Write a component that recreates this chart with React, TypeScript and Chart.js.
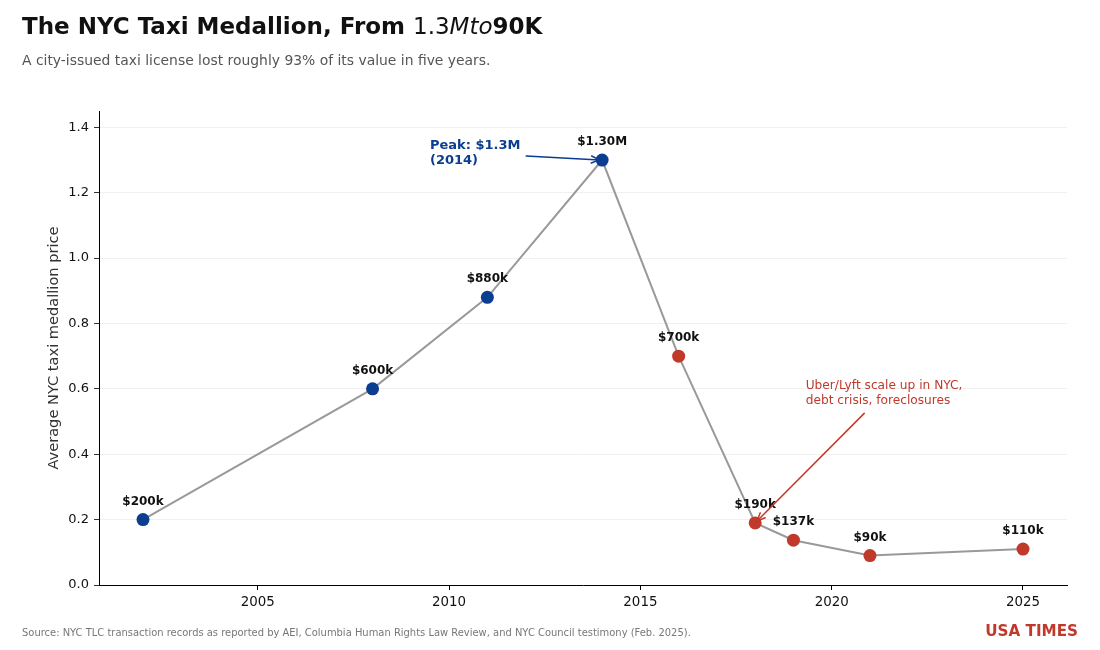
import React, { useEffect, useRef } from "react";
import { Chart, registerables } from "chart.js";

Chart.register(...registerables);

const years = [2002, 2008, 2011, 2014, 2016, 2018, 2019, 2021, 2025];
const prices = [0.2, 0.6, 0.88, 1.3, 0.7, 0.19, 0.137, 0.09, 0.11];
const priceLabels = ["$200k", "$600k", "$880k", "$1.30M", "$700k", "$190k", "$137k", "$90k", "$110k"];
const xTicks = [2005, 2010, 2015, 2020, 2025];
const yTicks = [0, 0.2, 0.4, 0.6, 0.8, 1.0, 1.2, 1.4];

const BLUE = "#0b3d91";
const RED = "#c0392b";
const FONT = '"DejaVu Sans", "Liberation Sans", sans-serif';

const peakNote = { x: 2009.5, y: 1.32, lines: ["Peak: $1.3M", "(2014)"], target: 3 };
const uberNote = { x: 2019.32, y: 0.586, lines: ["Uber/Lyft scale up in NYC,", "debt crisis, foreclosures"], target: 5 };

function drawArrow(ctx: CanvasRenderingContext2D, x1: number, y1: number, x2: number, y2: number, color: string) {
  const ang = Math.atan2(y2 - y1, x2 - x1);
  const shrink = 2.7;
  const ex = x2 - Math.cos(ang) * shrink;
  const ey = y2 - Math.sin(ang) * shrink;
  const sx = x1 + Math.cos(ang) * shrink;
  const sy = y1 + Math.sin(ang) * shrink;
  ctx.save();
  ctx.strokeStyle = color;
  ctx.lineWidth = 1.5;
  ctx.lineCap = "round";
  ctx.lineJoin = "round";
  ctx.beginPath();
  ctx.moveTo(sx, sy);
  ctx.lineTo(ex, ey);
  ctx.stroke();
  const hl = 8, hw = 3.5;
  const bx = ex - Math.cos(ang) * hl;
  const by = ey - Math.sin(ang) * hl;
  const nx = -Math.sin(ang), ny = Math.cos(ang);
  ctx.beginPath();
  ctx.moveTo(bx + nx * hw, by + ny * hw);
  ctx.lineTo(ex, ey);
  ctx.lineTo(bx - nx * hw, by - ny * hw);
  ctx.stroke();
  ctx.restore();
}

function drawNote(chart: any, note: any, color: string, bold: boolean, size: number) {
  const ctx: CanvasRenderingContext2D = chart.ctx;
  const xs = chart.scales.x, ys = chart.scales.y;
  const tx = xs.getPixelForValue(note.x);
  const ty = ys.getPixelForValue(note.y);
  const lh = 15;
  ctx.save();
  ctx.font = (bold ? "bold " : "") + size + "px " + FONT;
  ctx.fillStyle = color;
  ctx.textAlign = "left";
  ctx.textBaseline = "middle";
  let w = 0;
  note.lines.forEach((l: string, i: number) => {
    w = Math.max(w, ctx.measureText(l).width);
    ctx.fillText(l, tx, ty + (i - (note.lines.length - 1) / 2) * lh);
  });
  ctx.restore();
  const h = lh * note.lines.length;
  const cx = tx + w / 2, cy = ty;
  const pt = chart.getDatasetMeta(0).data[note.target];
  const px = pt.x, py = pt.y;
  const dx = px - cx, dy = py - cy;
  const pad = 3;
  const hx = w / 2 + pad, hy = h / 2 + pad;
  const t = Math.min(Math.abs(hx / (dx || 1e-9)), Math.abs(hy / (dy || 1e-9)));
  const sx = cx + dx * t, sy = cy + dy * t;
  drawArrow(ctx, sx, sy, px, py, color);
}

const overlay = {
  id: "overlay",
  afterDatasetsDraw(chart: any) {
    const ctx: CanvasRenderingContext2D = chart.ctx;
    const meta = chart.getDatasetMeta(0);
    ctx.save();
    ctx.font = "bold 12px " + FONT;
    ctx.fillStyle = "#111";
    ctx.textAlign = "center";
    ctx.textBaseline = "middle";
    meta.data.forEach((p: any, i: number) => {
      ctx.fillText(priceLabels[i], p.x, p.y - 18);
    });
    ctx.restore();
    drawNote(chart, peakNote, BLUE, true, 13);
    drawNote(chart, uberNote, RED, false, 12.2);
  },
  afterDraw(chart: any) {
    const ctx: CanvasRenderingContext2D = chart.ctx;
    ctx.save();
    ctx.textBaseline = "alphabetic";
    ctx.textAlign = "left";
    ctx.fillStyle = "#111";
    let x = 22;
    const segs: [string, string][] = [
      ["The NYC Taxi Medallion, From ", "bold 23px " + FONT],
      ["1.3", "23px " + FONT],
      ["Mto", "italic 23px " + FONT],
      ["90K", "bold 23px " + FONT],
    ];
    segs.forEach(([s, f]) => {
      ctx.font = f;
      ctx.fillText(s, x, 34);
      x += ctx.measureText(s).width;
    });
    ctx.font = "13.9px " + FONT;
    ctx.fillStyle = "#555";
    ctx.textBaseline = "middle";
    ctx.fillText("A city-issued taxi license lost roughly 93% of its value in five years.", 22, 61);
    ctx.font = "9.95px " + FONT;
    ctx.fillStyle = "#777";
    ctx.fillText("Source: NYC TLC transaction records as reported by AEI, Columbia Human Rights Law Review, and NYC Council testimony (Feb. 2025).", 22, 633);
    ctx.font = "bold 15.2px " + FONT;
    ctx.fillStyle = RED;
    ctx.textAlign = "right";
    ctx.fillText("USA TIMES", 1078, 632);
    ctx.save();
    ctx.translate(54, (chart.chartArea.top + chart.chartArea.bottom) / 2);
    ctx.rotate(-Math.PI / 2);
    ctx.textAlign = "center";
    ctx.font = "14.6px " + FONT;
    ctx.fillStyle = "#333";
    ctx.fillText("Average NYC taxi medallion price", 0, 0);
    ctx.restore();
    ctx.restore();
  },
};

export default function App() {
  const ref = useRef<HTMLCanvasElement>(null);
  useEffect(() => {
    if (!ref.current) return;
    const chart = new Chart(ref.current, {
      type: "line",
      data: {
        datasets: [
          {
            data: years.map((y, i) => ({ x: y, y: prices[i] })),
            borderColor: "#999999",
            borderWidth: 2,
            pointRadius: 6.5,
            pointHoverRadius: 6.5,
            pointBorderWidth: 0,
            pointBackgroundColor: years.map((y) => (y <= 2014 ? BLUE : RED)),
            tension: 0,
          },
        ],
      },
      options: {
        responsive: false,
        animation: false,
        events: [],
        layout: { padding: { left: 0, top: 111, right: 33, bottom: 0 } },
        plugins: { legend: { display: false }, tooltip: { enabled: false }, title: { display: false } },
        scales: {
          x: {
            type: "linear",
            min: 2000.85,
            max: 2026.15,
            afterBuildTicks: (s: any) => {
              s.ticks = xTicks.map((v) => ({ value: v }));
            },
            afterFit: (s: any) => {
              s.height = 65;
            },
            ticks: {
              callback: (v: any) => String(v),
              color: "#111",
              font: { family: FONT, size: 13.4 },
              padding: 4,
              maxRotation: 0,
            },
            grid: { drawOnChartArea: false, drawTicks: true, tickLength: 5, tickColor: "#000" },
            border: { display: true, color: "#000", width: 1 },
          },
          y: {
            type: "linear",
            min: 0,
            max: 1.45,
            afterBuildTicks: (s: any) => {
              s.ticks = yTicks.map((v) => ({ value: v }));
            },
            afterFit: (s: any) => {
              s.width = 99;
            },
            ticks: {
              callback: (v: any) => Number(v).toFixed(1),
              color: "#111",
              font: { family: FONT, size: 13 },
              padding: 5,
            },
            grid: { color: "#ececec", lineWidth: 0.8, drawTicks: true, tickLength: 5, tickColor: "#000" },
            border: { display: true, color: "#000", width: 1 },
          },
        },
      },
      plugins: [overlay],
    } as any);
    return () => chart.destroy();
  }, []);
  return (
    <div style={{ position: "fixed", left: 0, top: 0, width: 1100, height: 650, background: "#fff" }}>
      <canvas ref={ref} width={1100} height={650} style={{ width: 1100, height: 650, display: "block" }} />
    </div>
  );
}
